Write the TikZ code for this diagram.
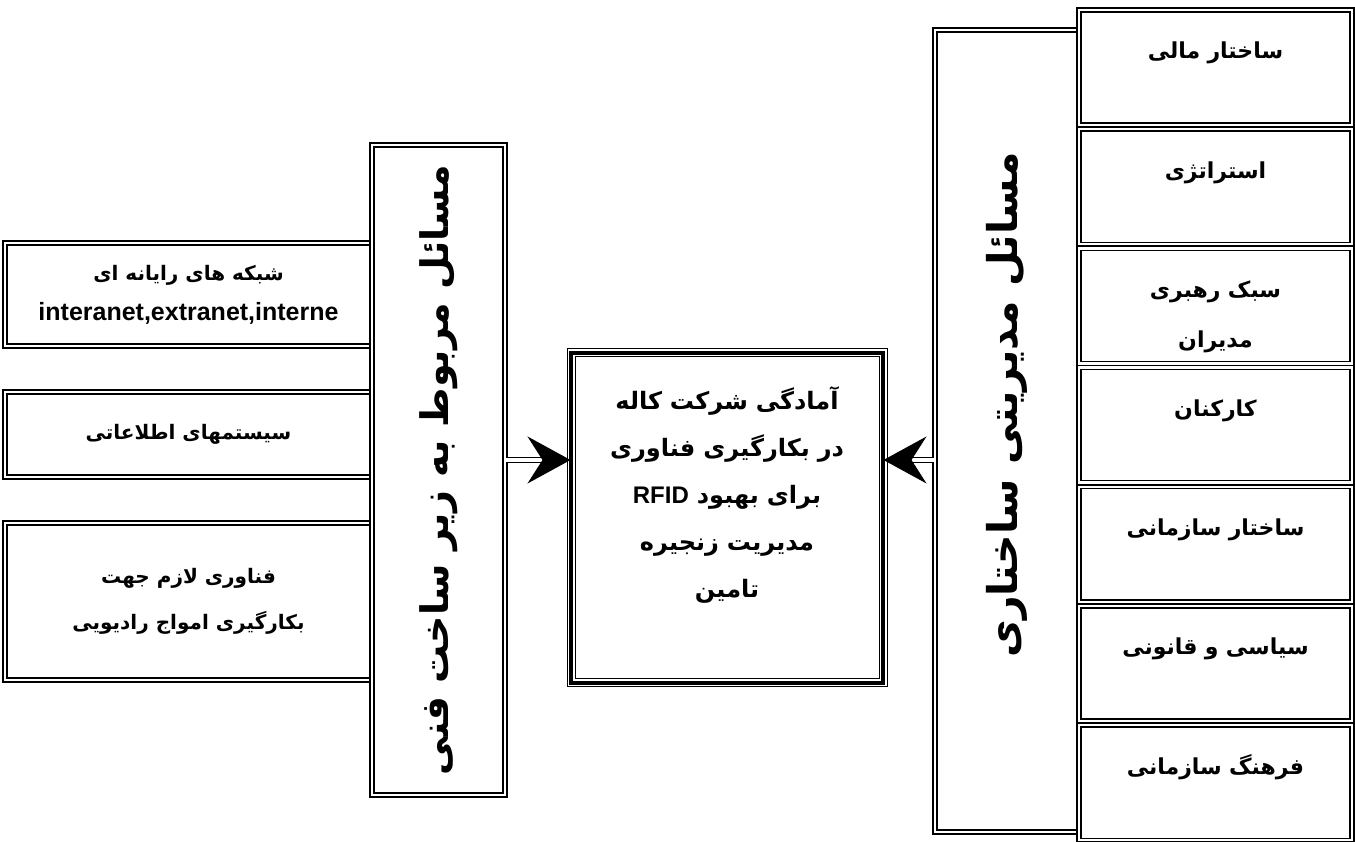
\documentclass[tikz,border=0pt]{standalone}
\usepackage{fontspec}
\usetikzlibrary{arrows.meta, calc}
\TeXXeTstate=1
\newfontfamily\farsifont[Script=Arabic]{DejaVu Sans}
\newfontfamily\latinfont{Liberation Sans}
\newcommand\fatext[1]{{\farsifont\bfseries\beginR #1\endR}}
\newcommand\latext[1]{{\latinfont\bfseries #1}}
\newcommand\topstrut{\rule{0pt}{48pt}}

\begin{document}
\begin{tikzpicture}[x=1pt, y=1pt,
    dblbox/.style={draw, line width=1.4pt, double, double distance=2.5pt,
                   inner sep=0pt, align=center},
    tripbox/.style={draw, line width=1pt, double, double distance=7pt,
                    postaction={draw, line width=4pt}, inner sep=0pt, align=center},
    link/.style={double, double distance=4pt, line width=1.2pt,
                 -{Stealth[length=43pt, width=47pt, inset=15pt]}},
    leftfont/.style={font=\fontsize{20}{40}\selectfont},
    rightfont/.style={font=\fontsize{22}{50}\selectfont},
    titlefont/.style={font=\fontsize{38}{46}\selectfont},
]

\useasboundingbox (0,0) rectangle (1355,842);

\def\lw{367}    % left box width
\def\rw{273}    % right box width
\def\rh{115}    % right box height
\def\rp{119.2}  % right box pitch

% ---------------------------------------------------------------- technical infrastructure
\node[dblbox, leftfont, minimum width=\lw pt, minimum height=103pt] (net) at (188.5,547.5)
    {\fatext{شبکه های رایانه ای}\\
     \latext{\fontsize{25}{40}\selectfont interanet,extranet,interne}};
\node[dblbox, leftfont, minimum width=\lw pt, minimum height=85pt] (infosys) at (188.5,407.5)
    {\fatext{سیستمهای اطلاعاتی}};
\node[dblbox, leftfont, minimum width=\lw pt, minimum height=157pt] (radio) at (188.5,240.5)
    {\fatext{فناوری لازم جهت}\\[6pt] \fatext{بکارگیری امواج رادیویی}};

\node[dblbox, titlefont, minimum width=133pt, minimum height=650pt] (infra) at (438.5,372)
    {\rotatebox{90}{\fatext{مسائل مربوط به زیر ساخت فنی}}};

% ---------------------------------------------------------------- centre
\node[tripbox, font=\fontsize{24}{47}\selectfont, text width=290pt,
      minimum width=312pt, minimum height=330pt] (core) at (727,324)
    {\strut\fatext{آمادگی شرکت کاله}\\
     \strut\fatext{در بکارگیری فناوری}\\
     \strut\latext{RFID} \fatext{برای بهبود}\\
     \strut\fatext{مدیریت زنجیره}\\
     \strut\fatext{تامین}\\
     \strut};

% ---------------------------------------------------------------- structural management
\node[dblbox, font=\fontsize{41}{46}\selectfont, minimum width=144pt, minimum height=802pt]
    (mgmt) at (1007,411)
    {\rotatebox{90}{\hspace*{52pt}\fatext{مسائل مدیریتی ساختاری}}};

\foreach \ta/\tb [count=\i from 0] in {ساختار مالی/, استراتژی/, سبک رهبری/مدیران,
    کارکنان/, ساختار سازمانی/, سیاسی و قانونی/, فرهنگ سازمانی/} {
  \node[dblbox, rightfont, text width=250pt, minimum width=\rw pt, minimum height=\rh pt]
      (r\i) at (1215.5, 774.5-\i*\rp) {\topstrut\fatext{\ta}\\ \strut\fatext{\tb}};
}

% ---------------------------------------------------------------- arrows
\coordinate (arrowrow) at (0,382);
\draw[link] (infra.east |- arrowrow) -- (core.west |- arrowrow);
\draw[link] (mgmt.west |- arrowrow) -- (core.east |- arrowrow);

\end{tikzpicture}
\end{document}
